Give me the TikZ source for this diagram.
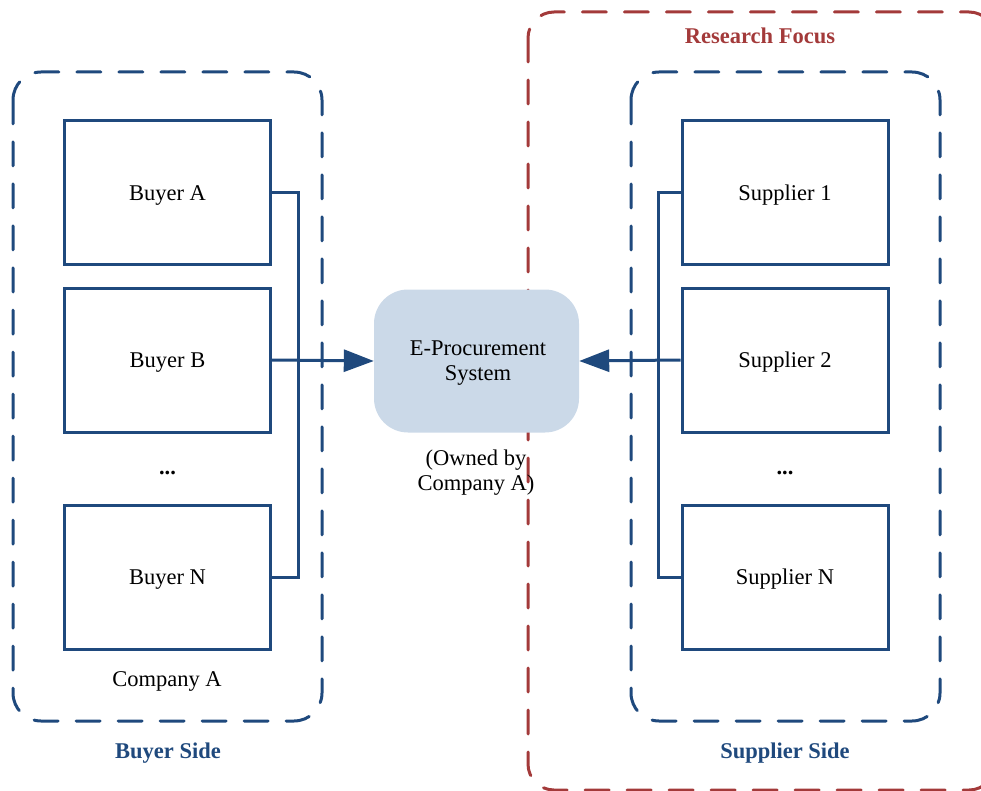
\documentclass[tikz,border=0pt]{standalone}
\usepackage{fontspec}
\setmainfont{Liberation Serif}
\usetikzlibrary{arrows.meta}
\definecolor{navy}{HTML}{1F497D}
\definecolor{brick}{HTML}{A33A3A}
\definecolor{paleblue}{HTML}{CBD9E8}
\tikzset{
  every node/.style={font=\fontsize{22.5}{25}\selectfont},
  party/.style={draw=navy, line width=3pt, minimum width=206pt, minimum height=144pt, inner sep=0pt, text height=19.5pt, text depth=5pt},
  groupline/.style={draw=navy, line width=3pt, dash pattern=on 24pt off 18pt, line cap=round, rounded corners=28pt},
  focusline/.style={draw=brick, line width=3pt, dash pattern=on 24pt off 18pt, line cap=round, rounded corners=26pt},
  conn/.style={draw=navy, line width=3pt},
  feed/.style={conn, -{Triangle[length=30pt,width=22pt]}},
  sidelabel/.style={text=navy, font=\fontsize{22.5}{25}\selectfont\bfseries},
}
\begin{document}
\begin{tikzpicture}[x=1pt,y=-1pt]
\useasboundingbox (0,0) rectangle (981,791);
\clip (0,0) rectangle (981,791);

% research focus region (runs past the page edge)
\draw[focusline] (528,12) rectangle (995,790);
\node[text=brick, font=\fontsize{22.5}{25}\selectfont\bfseries] (focus) at (760,36) {Research Focus};

% buyer and supplier groupings
\draw[groupline] (13,72) rectangle (322,721);
\draw[groupline] (631,72) rectangle (940,721);

% buyers
\node[party] (bA) at (167.5,193) {Buyer A};
\node[party] (bB) at (167.5,360) {Buyer B};
\node (bdots) at (167.5,473) {\textbf{...}};
\node[party] (bN) at (167.5,577) {Buyer N};
\node (comp) at (167,681) {Company A};
\node[sidelabel] (bside) at (168,753.5) {Buyer Side};

% suppliers
\node[party] (s1) at (785,193) {Supplier 1};
\node[party] (s2) at (785,360) {Supplier 2};
\node (sdots) at (785,473) {\textbf{...}};
\node[party] (sN) at (785,577) {Supplier N};
\node[sidelabel] (sside) at (785,753.5) {Supplier Side};

% e-procurement system
\node[fill=paleblue, rounded corners=34pt, minimum width=205pt, minimum height=143pt, inner sep=0pt] (eps) at (476.5,361) {};
\node[align=center] (epstext) at (478,363.5) {E-Procurement\\System};
\node[align=center] (owner) at (476,472.5) {(Owned by\\Company A)};

% buses
\coordinate (busL) at (298,0);
\coordinate (busR) at (658,0);
\draw[conn] (bA.east) -- (bA.east -| busL) -- (bN.east -| busL) -- (bN.east);
\draw[conn] (s1.west) -- (s1.west -| busR) -- (sN.west -| busR) -- (sN.west);
\draw[feed] (bB.east) -- (eps.west);
\draw[feed] (s2.west) -- (eps.east);
\end{tikzpicture}
\end{document}
